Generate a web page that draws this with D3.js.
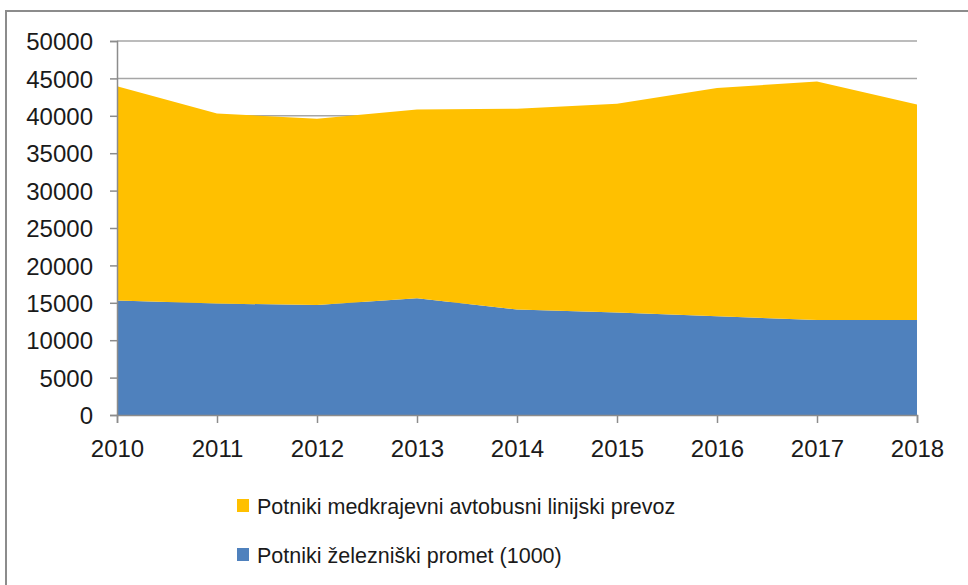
<!DOCTYPE html>
<html>
<head>
<meta charset="utf-8">
<script src="https://cdn.jsdelivr.net/npm/d3@7"></script>
<style>
  body { margin: 0; background: #fff; }
  svg { display: block; }
  text { font-family: "Liberation Sans", Arial, sans-serif; fill: #1a1a1a; }
</style>
</head>
<body>
<div id="chart"></div>
<script>
const years = [2010, 2011, 2012, 2013, 2014, 2015, 2016, 2017, 2018];
// Potniki železniški promet (1000)
const rail = [15300, 14900, 14700, 15600, 14100, 13700, 13200, 12700, 12700];
// Potniki medkrajevni avtobusni linijski prevoz
const bus = [28650, 25400, 24900, 25250, 26850, 27900, 30500, 31900, 28800];
const y_ticks = [0, 5000, 10000, 15000, 20000, 25000, 30000, 35000, 40000, 45000, 50000];
const series_names = ["Potniki železniški promet (1000)", "Potniki medkrajevni avtobusni linijski prevoz"];
const series_colors = ["#4F81BD", "#FFC000"];

const width = 968, height = 585;
const plot = {left: 117, right: 917, top: 41, bottom: 415};

const svg = d3.select("#chart").append("svg")
    .attr("width", width)
    .attr("height", height);

// outer frame of the chart object
svg.append("rect")
    .attr("x", 6).attr("y", 11)
    .attr("width", width + 10).attr("height", height + 10)
    .attr("fill", "none")
    .attr("stroke", "#8c8c8c")
    .attr("stroke-width", 2);

const x = d3.scaleLinear()
    .domain([years[0], years[years.length - 1]])
    .range([plot.left, plot.right]);
const y = d3.scaleLinear()
    .domain([0, 50000])
    .range([plot.bottom, plot.top]);

// gridlines
svg.append("g")
  .selectAll("line")
  .data(y_ticks.filter(d => d > 0))
  .enter().append("line")
    .attr("x1", plot.left).attr("x2", plot.right)
    .attr("y1", d => y(d)).attr("y2", d => y(d))
    .attr("stroke", "#a6a6a6")
    .attr("stroke-width", 1.5);

const table = years.map((yr, i) => ({year: yr, rail: rail[i], bus: bus[i]}));
const stacked = d3.stack().keys(["rail", "bus"])(table);

const area = d3.area()
    .x(d => x(d.data.year))
    .y0(d => y(d[0]))
    .y1(d => y(d[1]));

svg.append("g")
  .selectAll("path")
  .data(stacked)
  .enter().append("path")
    .attr("d", area)
    .attr("fill", (d, i) => series_colors[i]);

// y axis
const yAxis = svg.append("g")
    .attr("transform", "translate(" + plot.left + ",0)")
    .call(d3.axisLeft(y).tickValues(y_ticks).tickSize(7).tickPadding(17).tickFormat(d3.format("d")));
yAxis.selectAll("text").style("font-size", "24px").attr("dy", "0.36em");

// x axis
const xAxis = svg.append("g")
    .attr("transform", "translate(0," + plot.bottom + ")")
    .call(d3.axisBottom(x).tickValues(years).tickSize(8).tickPadding(17).tickFormat(d3.format("d")));
xAxis.selectAll("text").style("font-size", "24px");

svg.selectAll(".domain, .tick line")
    .attr("stroke", "#8c8c8c")
    .attr("stroke-width", 1.5);

// legend (bus first, then rail)
const legend_items = [
  {name: series_names[1], color: series_colors[1], y: 506},
  {name: series_names[0], color: series_colors[0], y: 555}
];
const lg = svg.append("g").selectAll("g")
  .data(legend_items)
  .enter().append("g")
    .attr("transform", d => "translate(237," + d.y + ")");
lg.append("rect")
    .attr("x", 0).attr("y", -7)
    .attr("width", 12).attr("height", 13)
    .attr("fill", d => d.color);
lg.append("text")
    .attr("x", 20).attr("y", 0)
    .attr("dy", "0.36em")
    .style("font-size", "21.5px")
    .text(d => d.name);
</script>
</body>
</html>
